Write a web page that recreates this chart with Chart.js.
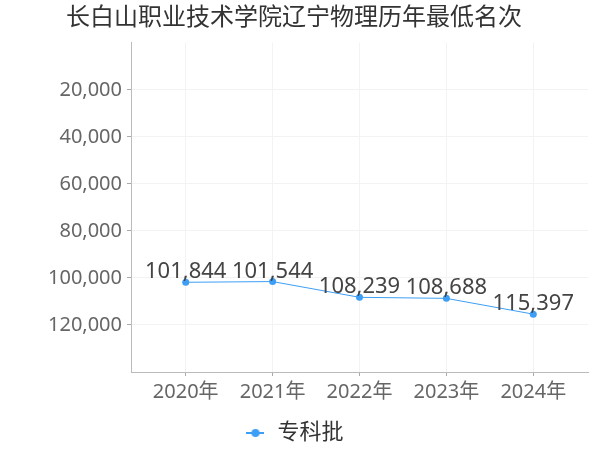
<!DOCTYPE html>
<html>
<head>
<meta charset="utf-8">
<script src="https://cdn.jsdelivr.net/npm/chart.js@4.4.1/dist/chart.umd.min.js"></script>
<style>
  html, body { margin: 0; padding: 0; background: #fff; }
  #wrap { width: 600px; height: 450px; }
</style>
</head>
<body>
<div id="wrap"><canvas id="chart"></canvas></div>
<script>
const titleText = '长白山职业技术学院辽宁物理历年最低名次'
const categories = ['2020年', '2021年', '2022年', '2023年', '2024年']
const seriesName = '专科批'
const rankValues = [101844, 101544, 108239, 108688, 115397]
const yTicks = [20000, 40000, 60000, 80000, 100000, 120000]

const fontFamily = '"Noto Sans", "Noto Sans CJK SC", sans-serif'
const lineColor = '#3d9ef5'
const fmt = (v) => v.toLocaleString('en-US')

// legend marker: short line with a dot
const marker = document.createElement('canvas')
marker.width = 18
marker.height = 10
const mctx = marker.getContext('2d')
mctx.strokeStyle = lineColor
mctx.lineWidth = 2
mctx.beginPath()
mctx.moveTo(0, 5)
mctx.lineTo(18, 5)
mctx.stroke()
mctx.fillStyle = lineColor
mctx.beginPath()
mctx.arc(9, 5, 4, 0, Math.PI * 2)
mctx.fill()

const valueLabels = {
  id: 'valueLabels',
  afterDatasetsDraw(chart) {
    const ctx = chart.ctx
    const meta = chart.getDatasetMeta(0)
    ctx.save()
    ctx.font = '22px ' + fontFamily
    ctx.fillStyle = '#444'
    ctx.textAlign = 'center'
    ctx.textBaseline = 'alphabetic'
    meta.data.forEach((pt, i) => {
      ctx.fillText(fmt(rankValues[i]), pt.x, pt.y - 4)
    })
    ctx.restore()
  },
}

new Chart(document.getElementById('chart').getContext('2d'), {
  type: 'line',
  data: {
    datasets: [
      {
        label: seriesName,
        data: rankValues.map((v, i) => ({ x: i, y: v })),
        borderColor: lineColor,
        backgroundColor: lineColor,
        borderWidth: 1,
        pointRadius: 3.5,
        pointHoverRadius: 3.5,
        pointBackgroundColor: lineColor,
        pointBorderWidth: 0,
        tension: 0,
      },
    ],
  },
  options: {
    responsive: true,
    maintainAspectRatio: false,
    animation: false,
    layout: { padding: { left: 0, right: 12, top: 0, bottom: -4 } },
    plugins: {
      title: {
        display: true,
        text: titleText,
        color: '#333',
        font: { family: fontFamily, size: 24, weight: 'normal' },
        padding: { top: 4, bottom: 10 },
      },
      legend: {
        position: 'bottom',
        labels: {
          usePointStyle: true,
          color: '#333',
          font: { family: fontFamily, size: 22 },
          padding: 2,
          generateLabels: (chart) => [
            {
              text: seriesName,
              pointStyle: marker,
              fillStyle: lineColor,
              strokeStyle: lineColor,
              fontColor: '#333',
              datasetIndex: 0,
            },
          ],
        },
      },
      tooltip: { enabled: false },
    },
    scales: {
      x: {
        type: 'linear',
        min: -0.63,
        max: 4.63,
        afterBuildTicks: (scale) => {
          scale.ticks = categories.map((_, i) => ({ value: i }))
        },
        afterFit: (scale) => {
          scale.height += 11
        },
        ticks: {
          color: '#666',
          font: { family: fontFamily, size: 20 },
          padding: 4.5,
          maxRotation: 0,
          autoSkip: false,
          callback: (v) => categories[v],
        },
        grid: { color: '#f3f3f3', tickColor: '#aaa', tickLength: 4 },
        border: { color: '#bbb' },
      },
      y: {
        reverse: true,
        min: 0,
        max: 140000,
        afterBuildTicks: (scale) => {
          scale.ticks = yTicks.map((v) => ({ value: v }))
        },
        afterFit: (scale) => {
          scale.width = 131
        },
        ticks: {
          color: '#666',
          font: { family: fontFamily, size: 20 },
          padding: 5,
          callback: (v) => fmt(v),
        },
        grid: { color: '#f3f3f3', tickColor: '#aaa', tickLength: 4 },
        border: { color: '#bbb' },
      },
    },
  },
  plugins: [valueLabels],
})
</script>
</body>
</html>
